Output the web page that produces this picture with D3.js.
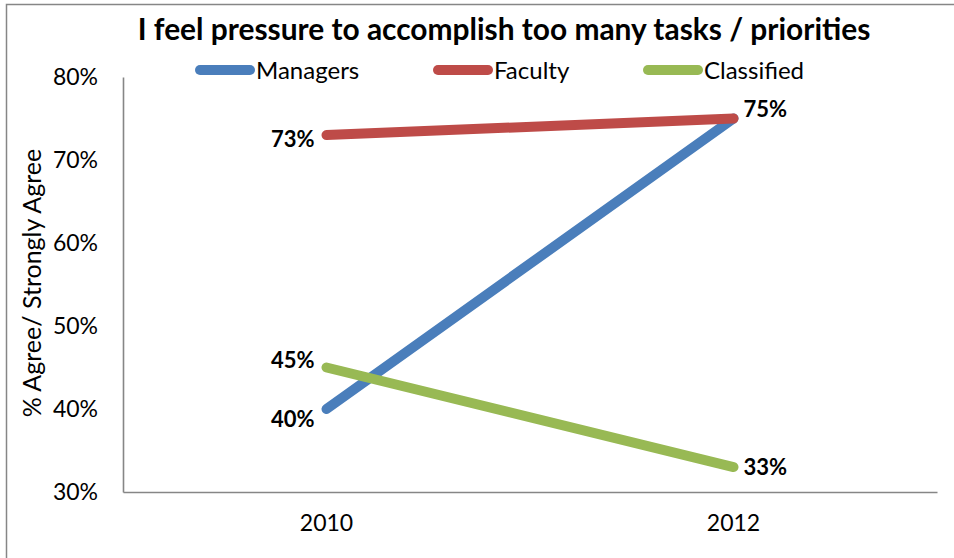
<!DOCTYPE html>
<html><head><meta charset="utf-8">
<script src="https://cdn.jsdelivr.net/npm/d3@7"></script>
<style>body{margin:0;background:#fff}svg{display:block}text{font-family:Lato,"Noto Sans",sans-serif}</style>
</head><body>
<svg id="c" width="954" height="558"></svg>
<script>
const title = "I feel pressure to accomplish too many tasks / priorities";
const yAxisTitle = "% Agree/ Strongly Agree";
const years = ["2010", "2012"];
const seriesNames = ["Managers", "Faculty", "Classified"];
const managers = [40, 75];
const faculty = [73, 75];
const classified = [45, 33];
const yTicks = [30, 40, 50, 60, 70, 80];
const colors = ["#4A7EBB", "#BE4B48", "#98B954"];

const series = [
  {name: seriesNames[0], values: managers, color: colors[0], side: ["left", "right"]},
  {name: seriesNames[1], values: faculty, color: colors[1], side: ["left", "right"]},
  {name: seriesNames[2], values: classified, color: colors[2], side: ["left", "right"]}
];
// label vertical nudges (pixels) per series/point
const labelDy = [[10, -9], [4, -9], [-7, 0]];

const svg = d3.select("#c");
const m = {left: 123, right: 937, top: 77, bottom: 492};

// frame
svg.append("rect").attr("x", 6.5).attr("y", 4.5).attr("width", 1000).attr("height", 600)
  .attr("fill", "none").attr("stroke", "#868686").attr("stroke-width", 1.5);

const x = d3.scaleBand().domain(years).range([m.left, m.right]);
const y = d3.scaleLinear().domain([30, 80]).range([m.bottom, m.top]);

// axes
const yAxis = svg.append("g").attr("transform", `translate(${m.left},0)`)
  .call(d3.axisLeft(y).tickValues(yTicks).tickSize(0).tickPadding(25).tickFormat(d => d + "%"));
const xAxis = svg.append("g").attr("transform", `translate(0,${m.bottom})`)
  .call(d3.axisBottom(x).tickSize(0).tickPadding(23));
[yAxis, xAxis].forEach(g => {
  g.select(".domain").attr("stroke", "#868686").attr("stroke-width", 1.6);
  g.selectAll("text").attr("font-size", 23).attr("fill", "#000").attr("font-family", "Lato, sans-serif");
});

// y title
svg.append("text").attr("transform", "translate(41,283) rotate(-90)")
  .attr("text-anchor", "middle").attr("font-size", 25).text(yAxisTitle);

// lines
const line = d3.line().x((d, i) => x(years[i]) + x.bandwidth() / 2).y(d => y(d));
series.forEach(s => {
  svg.append("path").datum(s.values).attr("d", line).attr("fill", "none")
    .attr("stroke", s.color).attr("stroke-width", 10).attr("stroke-linecap", "round");
});

// data labels (a label that would sit on an identical point of a later series is shown once)
series.forEach((s, si) => {
  s.values.forEach((v, i) => {
    const dup = series.some((o, oi) => oi > si && o.values[i] === v);
    if (dup) return;
    const px = x(years[i]) + x.bandwidth() / 2;
    const left = s.side[i] === "left";
    svg.append("text").attr("x", left ? px - 12 : px + 10).attr("y", y(v) + labelDy[si][i])
      .attr("dy", "0.36em").attr("text-anchor", left ? "end" : "start")
      .attr("font-weight", "bold").attr("font-size", 22).text(v + "%");
  });
});

// title
const t = svg.append("text").attr("x", 504).attr("y", 40).attr("text-anchor", "middle")
  .attr("font-weight", "bold").attr("font-size", 27).text(title);
const tw = t.node().getComputedTextLength();
t.attr("font-size", 27 * 733 / tw);

// legend
const legX = [195, 433, 643];
series.forEach((s, i) => {
  const g = svg.append("g").attr("transform", `translate(${legX[i]},70)`);
  g.append("line").attr("x1", 5).attr("x2", 55).attr("y1", 0).attr("y2", 0)
    .attr("stroke", s.color).attr("stroke-width", 10).attr("stroke-linecap", "round");
  g.append("text").attr("x", 61).attr("y", 0).attr("dy", "0.36em").attr("font-size", 24).text(s.name);
});
</script>
</body></html>
